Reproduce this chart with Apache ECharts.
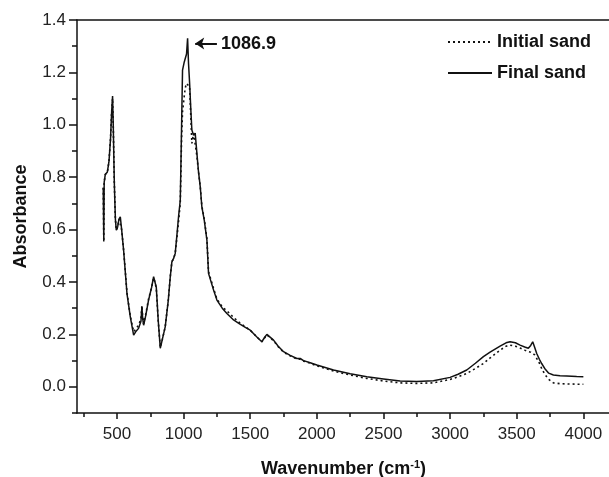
<!DOCTYPE html>
<html>
<head>
<meta charset="utf-8">
<title>FTIR absorbance</title>
<script src="https://cdn.jsdelivr.net/npm/echarts@6/dist/echarts.min.js"></script>
<style>
  html, body { margin: 0; padding: 0; background: #fff; }
  #chart { width: 609px; height: 477px; }
</style>
</head>
<body>
<div id="chart"></div>
<script>
// wavenumber (cm-1)
var wavenumber = [397, 401, 404, 412, 428, 440, 452, 460, 467, 472, 480, 488, 495, 505, 515, 525, 535, 550, 575, 600,
  625, 640, 662, 680, 687, 693, 700, 715, 737, 760, 775, 785, 795, 810, 825, 840, 862, 885, 900, 912,
  925, 937, 950, 962, 975, 980, 985, 992, 1005, 1012, 1022, 1030, 1037, 1045, 1055, 1062, 1075, 1087, 1100, 1112,
  1125, 1137, 1155, 1175, 1187, 1225, 1250, 1290, 1325, 1375, 1420, 1460, 1500, 1550, 1587, 1610, 1625, 1640, 1675, 1710,
  1750, 1800, 1850, 1875, 1900, 1950, 2000, 2125, 2250, 2375, 2500, 2625, 2750, 2875, 3000, 3060, 3125, 3190, 3250, 3300,
  3375, 3420, 3450, 3490, 3525, 3560, 3587, 3605, 3620, 3635, 3650, 3670, 3687, 3710, 3740, 3775, 3825, 3875, 3950, 4000]

// final sand (solid)
var finalSand = [0.76, 0.555, 0.78, 0.81, 0.82, 0.86, 0.95, 1.05, 1.11, 1.0, 0.78, 0.64, 0.598, 0.61, 0.64, 0.649, 0.6, 0.52, 0.356, 0.267,
  0.197, 0.21, 0.223, 0.25, 0.305, 0.26, 0.235, 0.27, 0.331, 0.38, 0.42, 0.40, 0.38, 0.25, 0.147, 0.18, 0.229, 0.33, 0.42, 0.477,
  0.49, 0.509, 0.58, 0.649, 0.712, 0.85, 1.0, 1.209, 1.24, 1.247, 1.27, 1.33, 1.234, 1.16, 1.05, 0.98, 0.96, 0.968, 0.89, 0.82,
  0.763, 0.687, 0.636, 0.56, 0.433, 0.369, 0.331, 0.30, 0.28, 0.255, 0.24, 0.228, 0.216, 0.19, 0.172, 0.19, 0.2, 0.195, 0.178, 0.155,
  0.134, 0.12, 0.108, 0.108, 0.1, 0.092, 0.083, 0.064, 0.05, 0.038, 0.03, 0.022, 0.02, 0.023, 0.036, 0.048, 0.064, 0.09, 0.115, 0.132,
  0.155, 0.168, 0.172, 0.168, 0.159, 0.152, 0.147, 0.158, 0.172, 0.15, 0.127, 0.105, 0.089, 0.07, 0.052, 0.045, 0.042, 0.041, 0.039, 0.038]

// initial sand (dotted)
var initialSand = [0.76, 0.555, 0.78, 0.81, 0.82, 0.86, 0.95, 1.05, 1.10, 1.0, 0.78, 0.64, 0.598, 0.61, 0.64, 0.645, 0.6, 0.52, 0.36, 0.27,
  0.21, 0.22, 0.235, 0.26, 0.31, 0.265, 0.24, 0.275, 0.335, 0.38, 0.415, 0.40, 0.375, 0.25, 0.15, 0.18, 0.229, 0.33, 0.42, 0.477,
  0.49, 0.509, 0.57, 0.63, 0.70, 0.82, 0.95, 1.05, 1.11, 1.14, 1.158, 1.16, 1.155, 1.145, 1.02, 0.929, 0.967, 0.973, 0.88, 0.82,
  0.763, 0.69, 0.64, 0.565, 0.44, 0.375, 0.335, 0.305, 0.29, 0.265, 0.245, 0.23, 0.216, 0.19, 0.172, 0.188, 0.198, 0.192, 0.176, 0.153,
  0.132, 0.118, 0.106, 0.105, 0.098, 0.09, 0.08, 0.06, 0.045, 0.032, 0.022, 0.015, 0.013, 0.015, 0.028, 0.038, 0.051, 0.07, 0.089, 0.11,
  0.14, 0.155, 0.159, 0.155, 0.148, 0.14, 0.134, 0.132, 0.128, 0.122, 0.115, 0.09, 0.07, 0.048, 0.028, 0.015, 0.012, 0.011, 0.01, 0.01]

var xTickLabels = [500, 1000, 1500, 2000, 2500, 3000, 3500, 4000]
var xMinorTicks = [250, 750, 1250, 1750, 2250, 2750, 3250, 3750]
var yTickLabels = [0, 0.2, 0.4, 0.6, 0.8, 1.0, 1.2, 1.4]
var yMinorTicks = [-0.1, 0.1, 0.3, 0.5, 0.7, 0.9, 1.1, 1.3]

// peak annotation: arrow from [peakX, peakY] to [arrowEndX, peakY]
var peakLabel = '1086.9'
var peakX = 1087
var peakY = 1.31
var arrowEndX = 1250

var seriesNames = ['Initial sand', 'Final sand']

function pairs(xs, ys) {
  return xs.map(function (x, i) { return [x, ys[i]] })
}

var ink = '#111'
var font = '"Liberation Sans", Arial, sans-serif'

var chart = echarts.init(document.getElementById('chart'))

var xBase = {
  type: 'value', min: 200, max: 4200,
  splitLine: { show: false }
}
var yBase = {
  type: 'value', min: -0.1, max: 1.4,
  splitLine: { show: false }
}

var option = {
  backgroundColor: '#fff',
  animation: false,
  textStyle: { fontFamily: font, color: ink },
  grid: { left: 77, top: 20, right: -1, bottom: 64, containLabel: false, outerBoundsMode: 'none' },
  legend: {
    data: seriesNames,
    orient: 'vertical',
    left: 447, top: 33,
    padding: 0,
    itemWidth: 44, itemHeight: 14, itemGap: 13,
    itemStyle: { opacity: 0 },
    textStyle: { fontSize: 18, fontWeight: 'bold', color: ink, fontFamily: font, lineHeight: 18 }
  },
  xAxis: [
    Object.assign({}, xBase, {
      position: 'bottom',
      name: 'Wavenumber (cm{sup|-1})',
      nameLocation: 'middle',
      nameGap: 46,
      nameTextStyle: {
        fontSize: 18, fontWeight: 'bold', color: ink, fontFamily: font,
        rich: { sup: { fontSize: 11, fontWeight: 'bold', padding: [0, 0, 9, 0] } }
      },
      axisLine: { onZero: false, lineStyle: { color: ink, width: 1.5 } },
      axisTick: { customValues: xTickLabels, length: 6, lineStyle: { color: ink, width: 1.5 } },
      axisLabel: {
        customValues: xTickLabels, margin: 13, fontSize: 17, color: '#222', fontFamily: font,
        formatter: function (v) { return String(v) }
      }
    }),
    Object.assign({}, xBase, {
      position: 'bottom',
      axisLine: { show: false, onZero: false },
      axisTick: { customValues: xMinorTicks, length: 4, lineStyle: { color: ink, width: 1.5 } },
      axisLabel: { show: false }
    }),
    Object.assign({}, xBase, {
      position: 'top',
      axisLine: { onZero: false, lineStyle: { color: ink, width: 1.5 } },
      axisTick: { show: false },
      axisLabel: { show: false }
    })
  ],
  yAxis: [
    Object.assign({}, yBase, {
      position: 'left',
      name: 'Absorbance',
      nameLocation: 'middle',
      nameGap: 47,
      nameTextStyle: { fontSize: 18, fontWeight: 'bold', color: ink, fontFamily: font },
      axisLine: { show: true, onZero: false, lineStyle: { color: ink, width: 1.5 } },
      axisTick: { show: true, customValues: yTickLabels, length: 8, lineStyle: { color: ink, width: 1.5 } },
      axisLabel: {
        customValues: yTickLabels, margin: 11, fontSize: 17, color: '#222', fontFamily: font,
        formatter: function (v) { return v.toFixed(1) }
      }
    }),
    Object.assign({}, yBase, {
      position: 'left',
      axisLine: { show: false, onZero: false },
      axisTick: { show: true, customValues: yMinorTicks, length: 5, lineStyle: { color: ink, width: 1.5 } },
      axisLabel: { show: false }
    })
  ],
  series: [
    {
      name: seriesNames[0],
      type: 'line',
      data: pairs(wavenumber, initialSand),
      showSymbol: false, symbol: 'none',
      color: ink,
      lineStyle: { color: ink, width: 1.6, type: [2, 3] },
      z: 2
    },
    {
      name: seriesNames[1],
      type: 'line',
      data: pairs(wavenumber, finalSand),
      showSymbol: false, symbol: 'none',
      color: ink,
      lineStyle: { color: ink, width: 1.5 },
      z: 3,
      markLine: {
        silent: true,
        symbol: ['arrow', 'none'],
        symbolSize: 9,
        lineStyle: { color: ink, width: 2, type: 'solid' },
        label: {
          show: true, position: 'end', distance: 4,
          formatter: peakLabel,
          fontSize: 18, fontWeight: 'bold', color: ink, fontFamily: font
        },
        data: [[{ coord: [peakX, peakY] }, { coord: [arrowEndX, peakY] }]]
      }
    }
  ]
}

chart.setOption(option)
</script>
</body>
</html>
